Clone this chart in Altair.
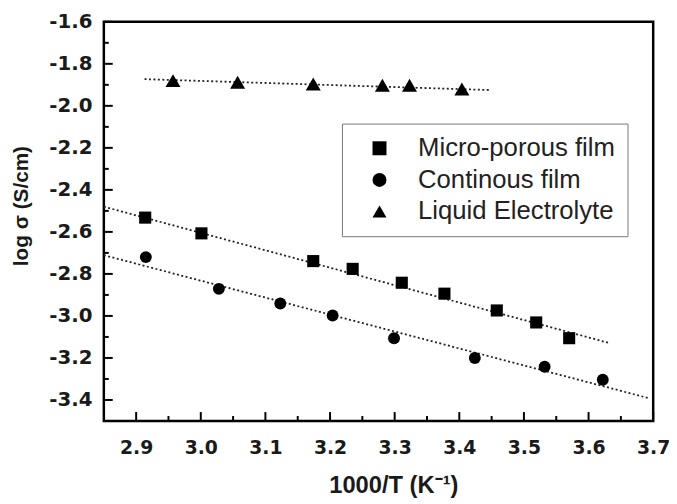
import altair as alt
import pandas as pd

# ---- data ----
series_names = ["Micro-porous film", "Continous film", "Liquid Electrolyte"]
series_shapes = ["square", "circle", "triangle-up"]
series_sizes = [150, 145, 230]

sq_x = [2.914, 3.001, 3.174, 3.235, 3.311, 3.377, 3.458, 3.519, 3.570]
sq_y = [-2.532, -2.607, -2.739, -2.776, -2.842, -2.894, -2.974, -3.031, -3.106]

ci_x = [2.915, 3.028, 3.123, 3.204, 3.299, 3.424, 3.532, 3.622]
ci_y = [-2.720, -2.871, -2.941, -2.998, -3.106, -3.200, -3.242, -3.304]

tr_x = [2.957, 3.057, 3.174, 3.281, 3.323, 3.404]
tr_y = [-1.880, -1.888, -1.896, -1.902, -1.902, -1.920]

# dotted linear-fit lines (end points)
fit_sq_x = [2.85, 3.632]
fit_sq_y = [-2.480, -3.129]
fit_ci_x = [2.85, 3.695]
fit_ci_y = [-2.711, -3.393]
fit_tr_x = [2.913, 3.449]
fit_tr_y = [-1.873, -1.925]

x_labels = [2.9, 3.0, 3.1, 3.2, 3.3, 3.4, 3.5, 3.6, 3.7]
x_minor = [2.95, 3.05, 3.15, 3.25, 3.35, 3.45, 3.55, 3.65]
y_labels = [-1.6, -1.8, -2.0, -2.2, -2.4, -2.6, -2.8, -3.0, -3.2, -3.4]
y_minor = [-1.7, -1.9, -2.1, -2.3, -2.5, -2.7, -2.9, -3.1, -3.3]

# ---- tables ----
series_tables = [
    pd.DataFrame({"x": sq_x, "y": sq_y, "series": series_names[0]}),
    pd.DataFrame({"x": ci_x, "y": ci_y, "series": series_names[1]}),
    pd.DataFrame({"x": tr_x, "y": tr_y, "series": series_names[2]}),
]

fits = pd.concat([
    pd.DataFrame({"x": fit_sq_x, "y": fit_sq_y, "series": series_names[0]}),
    pd.DataFrame({"x": fit_ci_x, "y": fit_ci_y, "series": series_names[1]}),
    pd.DataFrame({"x": fit_tr_x, "y": fit_tr_y, "series": series_names[2]}),
], ignore_index=True)

W, H = 556, 404

xs = alt.Scale(domain=[2.85, 3.7], nice=False, zero=False)
ys = alt.Scale(domain=[-3.5, -1.6], nice=False, zero=False)

minus_fix = "replace(datum.label, '\u2212', '-')"

x_axis = alt.Axis(
    values=x_labels, format=".1f", labelExpr=minus_fix,
    title="1000/T (K\u207b\u00b9)",
    titleX=293, titleY=72, titleAlign="center", titleBaseline="alphabetic",
    titleFont="Liberation Sans", titleFontSize=24, titleFontWeight="bold",
    titleColor="#1a1a1a",
    ticks=False, tickSize=0, domain=False, grid=False,
    labelPadding=18, labelFont="DejaVu Sans", labelFontWeight="bold",
    labelFontSize=19, labelColor="#1a1a1a", labelFlush=False, labelOverlap=False,
)
y_axis = alt.Axis(
    values=y_labels, format=".1f", labelExpr=minus_fix,
    title="log \u03c3 (S/cm)",
    titleX=-83, titleY=186, titleAngle=270, titleAlign="center", titleBaseline="middle",
    titleFont="Liberation Sans", titleFontSize=21, titleFontWeight="bold",
    titleColor="#1a1a1a",
    ticks=False, tickSize=0, domain=False, grid=False,
    labelPadding=12, labelFont="DejaVu Sans", labelFontWeight="bold",
    labelFontSize=20, labelColor="#1a1a1a", labelOverlap=False,
)

X = alt.X("x:Q", scale=xs, axis=x_axis)
Y = alt.Y("y:Q", scale=ys, axis=y_axis)

legend = alt.Legend(
    title=None, orient="none", legendX=241, legendY=103,
    padding=12, strokeColor="#777", fillColor="white",
    symbolSize=200, symbolFillColor="black", symbolStrokeColor="black",
    symbolStrokeWidth=0, symbolOpacity=1,
    symbolOffset=13, labelOffset=26, rowPadding=6,
    labelFont="Liberation Sans", labelFontSize=26, labelColor="#222",
    labelLimit=400,
)
shape_enc = alt.Shape(
    "series:N",
    scale=alt.Scale(domain=series_names, range=series_shapes),
    legend=legend,
)

lines = alt.Chart(fits).mark_line(
    color="#222", strokeWidth=1.8, strokeDash=[2, 2.5]
).encode(x=X, y=Y, detail="series:N")

point_layers = [
    alt.Chart(tbl).mark_point(
        filled=True, color="black", opacity=1, size=sz
    ).encode(x=X, y=Y, shape=shape_enc)
    for tbl, sz in zip(series_tables, series_sizes)
]

xt_major = alt.Chart(pd.DataFrame({"x": x_labels})).mark_rule(
    color="black", strokeWidth=2
).encode(x=X, y=alt.value(H), y2=alt.value(H - 9))
xt_minor = alt.Chart(pd.DataFrame({"x": x_minor})).mark_rule(
    color="black", strokeWidth=2
).encode(x=X, y=alt.value(H), y2=alt.value(H - 5))
yt_major = alt.Chart(pd.DataFrame({"y": y_labels})).mark_rule(
    color="black", strokeWidth=2
).encode(y=Y, x=alt.value(0), x2=alt.value(9))
yt_minor = alt.Chart(pd.DataFrame({"y": y_minor})).mark_rule(
    color="black", strokeWidth=2
).encode(y=Y, x=alt.value(0), x2=alt.value(5))

chart = alt.layer(
    lines, xt_major, xt_minor, yt_major, yt_minor, *point_layers
).properties(
    width=W, height=H,
    padding={"left": 97, "top": 11, "right": 16, "bottom": 76},
    autosize=alt.AutoSizeParams(type="none"),
    background="white",
).configure_view(
    stroke="black", strokeWidth=2.5
)

chart.save("out.html", embed_options={"renderer": "svg", "actions": False})
